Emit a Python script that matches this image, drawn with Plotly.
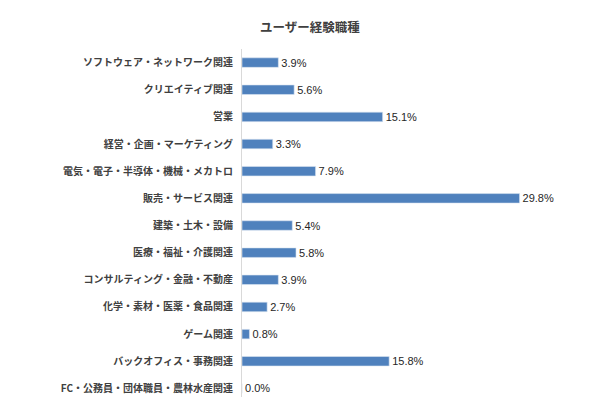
import plotly.graph_objects as go

categories = [
    "ソフトウェア・ネットワーク関連",
    "クリエイティブ関連",
    "営業",
    "経営・企画・マーケティング",
    "電気・電子・半導体・機械・メカトロ",
    "販売・サービス関連",
    "建築・土木・設備",
    "医療・福祉・介護関連",
    "コンサルティング・金融・不動産",
    "化学・素材・医薬・食品関連",
    "ゲーム関連",
    "バックオフィス・事務関連",
    "FC・公務員・団体職員・農林水産関連",
]
values = [3.9, 5.6, 15.1, 3.3, 7.9, 29.8, 5.4, 5.8, 3.9, 2.7, 0.8, 15.8, 0.0]
labels = [f"{v:.1f}%" for v in values]
title = "ユーザー経験職種"

fig = go.Figure(go.Bar(
    x=values,
    y=categories,
    orientation="h",
    text=labels,
    textposition="outside",
    constraintext="none",
    cliponaxis=False,
    textfont=dict(size=11, color="#262626", family="Liberation Sans, Arial, sans-serif"),
    marker=dict(color="#4F81BD", line=dict(color="#DCE6F2", width=0.6)),
    width=0.35,
))

fig.update_layout(
    width=600, height=397,
    margin=dict(l=234, r=40, t=41, b=3),
    paper_bgcolor="white", plot_bgcolor="white",
    title=dict(text="<b>" + title + "</b>", x=302 / 600, xref="container", xanchor="center",
               y=1 - 20 / 397, yref="container", yanchor="middle",
               font=dict(size=12.5, color="#404040", family="Noto Sans CJK JP")),
    font=dict(family="Noto Sans CJK JP", color="#404040"),
    showlegend=False,
)
fig.update_xaxes(range=[0, 35], visible=False, fixedrange=True)
fig.update_yaxes(
    autorange="reversed",
    automargin=False,
    tickmode="array",
    tickvals=categories,
    ticktext=["<b>" + c + "</b>" for c in categories],
    tickfont=dict(size=10, color="#404040", family="Noto Sans CJK JP"),
    showline=True, linecolor="#D9D9D9", linewidth=1,
    ticks="outside", ticklen=6, tickcolor="rgba(0,0,0,0)",
    showgrid=False, zeroline=False,
)

fig.write_html("out.html")
